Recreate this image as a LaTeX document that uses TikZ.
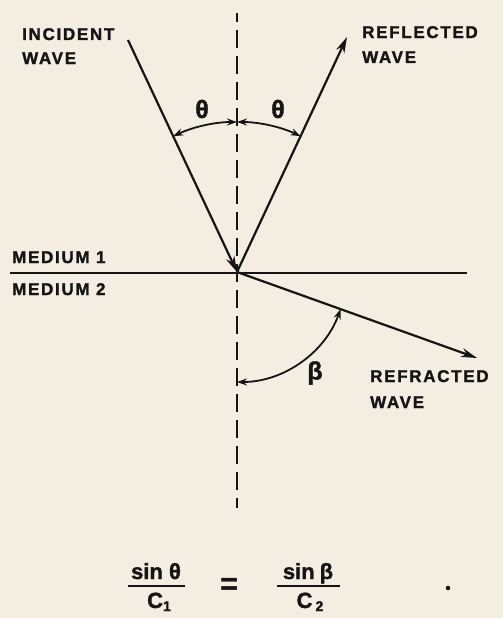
\documentclass[tikz,border=0pt]{standalone}
\usepackage{fontspec}
\setmainfont{Liberation Sans}
\newfontfamily\lbf[LetterSpace=10,FakeBold=1.5]{Liberation Sans Bold}
\newfontfamily\hb[FakeBold=1.5]{Liberation Sans Bold}
\usetikzlibrary{arrows.meta}
\definecolor{bg}{HTML}{F4EDE2}
\definecolor{ink}{HTML}{151515}
\begin{document}
\begin{tikzpicture}[x=1pt,y=-1pt,
  lbl/.style={inner sep=0pt, anchor=base west, font=\lbf\fontsize{17}{20}\selectfont, text=ink},
  greek/.style={inner sep=0pt, font=\hb\fontsize{25}{28}\selectfont, text=ink},
  eq/.style={inner sep=0pt, anchor=base, font=\hb\fontsize{22}{26}\selectfont, text=ink},
  wave/.style={draw=ink, line width=2.2pt, -{Stealth[length=16pt,width=9pt]}},
  ang/.style={draw=ink, line width=1.8pt, {Stealth[length=10pt,width=7pt]}-{Stealth[length=10pt,width=7pt]}},
  normalline/.style={draw=ink, line width=2pt, dash pattern=on 18pt off 8pt, dash phase=9pt},
  iface/.style={draw=ink, line width=2.2pt},
  fbar/.style={draw=ink, line width=2.6pt}]
\useasboundingbox (0,0) rectangle (503,618);
\fill[bg] (0,0) rectangle (503,618);

\coordinate (O) at (237,272);
\coordinate (incS) at (128,40);
\coordinate (refT) at (347,37);
\coordinate (frT) at (477,358);
\coordinate (nTop) at (237,13);
\coordinate (nBot) at (237,508);
\coordinate (ifL) at (10,273);
\coordinate (ifR) at (467,273);

\draw[normalline] (nTop) -- (nBot);
\draw[iface] (ifL) -- (ifR);
\draw[wave] (incS) -- (O);
\draw[wave] (O) -- (refT);
\draw[wave] (O) -- (frT);

\draw[ang] (O) ++(-115.2:150) arc[start angle=-115.2, end angle=-90, radius=150];
\draw[ang] (O) ++(-90:150) arc[start angle=-90, end angle=-64.9, radius=150];
\draw[ang] (O) ++(90:110) arc[start angle=90, end angle=19.7, radius=110];

\node[lbl] (inc1) at (22,40) {INCIDENT};
\node[lbl] (inc2) at (22,64) {WAVE};
\node[lbl] (ref1) at (362,38) {REFLECTED};
\node[lbl] (ref2) at (362,63) {WAVE};
\node[lbl] (m1) at (12,263) {MEDIUM 1};
\node[lbl] (m2) at (12,295) {MEDIUM 2};
\node[lbl] (fr1) at (370,382) {REFRACTED};
\node[lbl] (fr2) at (370,408) {WAVE};

\node[greek] (th1) at (202,109) {θ};
\node[greek] (th2) at (278,109) {θ};
\node[greek] (be) at (315,373) {β};

\node[eq] (n1) at (156,579) {sin θ};
\coordinate (b1L) at (128,586);
\coordinate (b1R) at (185,586);
\draw[fbar] (b1L) -- (b1R);
\node[eq] (d1) at (159,608) {C\raisebox{-3pt}{\fontsize{14}{16}\selectfont 1}};
\node[greek, font=\hb\fontsize{30}{32}\selectfont] (eqs) at (229,586) {=};
\node[eq] (n2) at (308,579) {sin\hspace{5pt}β};
\coordinate (b2L) at (277,586);
\coordinate (b2R) at (340,586);
\draw[fbar] (b2L) -- (b2R);
\node[eq] (d2) at (310,608) {C\hspace{3pt}\raisebox{-3pt}{\fontsize{14}{16}\selectfont 2}};
\node[circle, fill=ink, inner sep=1.6pt] (dot) at (448,588) {};
\end{tikzpicture}
\end{document}
